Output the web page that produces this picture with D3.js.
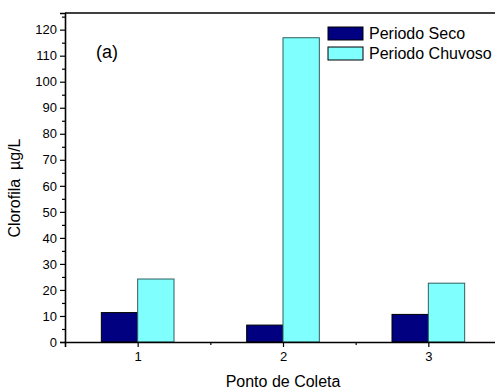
<!DOCTYPE html>
<html>
<head>
<meta charset="utf-8">
<script src="https://cdn.jsdelivr.net/npm/d3@7"></script>
<style>
  body { margin: 0; background: #fff; }
  svg { font-family: "Liberation Sans", Arial, sans-serif; }
</style>
</head>
<body>
<div id="chart"></div>
<script>
// chlorophyll per sampling point, dry vs rainy period
const pontos = [1, 2, 3]
const seco = [11.3, 6.5, 10.6]
const chuvoso = [24.2, 116.9, 22.6]
const series = ["Periodo Seco", "Periodo Chuvoso"]
const yTicks = [0, 10, 20, 30, 40, 50, 60, 70, 80, 90, 100, 110, 120]

const width = 495, height = 389
const margin = { top: 13, right: -6, bottom: 47, left: 65 }

const svg = d3.select("#chart").append("svg")
    .attr("width", width)
    .attr("height", height)

const x = d3.scaleLinear()
    .domain([0.5, 3.5])
    .range([margin.left, width - margin.right])

const y = d3.scaleLinear()
    .domain([0, 126.4])
    .range([height - margin.bottom, margin.top])

const colors = { fill: ["#000080", "#80ffff"], stroke: ["#000000", "#2f5f5f"] }
const barW = 0.25

// bars
const data = []
pontos.forEach(function (p, i) {
    data.push({ p: p, s: 0, v: seco[i] })
    data.push({ p: p, s: 1, v: chuvoso[i] })
})

svg.selectAll(".bar")
    .data(data)
    .enter()
    .append("rect")
    .attr("class", "bar")
    .attr("x", d => x(d.s === 0 ? d.p - barW : d.p))
    .attr("width", d => x(d.p + barW) - x(d.p))
    .attr("y", d => y(d.v))
    .attr("height", d => y(0) - y(d.v))
    .attr("fill", d => colors.fill[d.s])
    .attr("stroke", d => colors.stroke[d.s])
    .attr("stroke-width", 1)

// top frame line
svg.append("line")
    .attr("x1", x(0.5)).attr("x2", x(3.5))
    .attr("y1", y.range()[1]).attr("y2", y.range()[1])
    .attr("stroke", "#000").attr("stroke-width", 1.3)

// y axis
const yAxis = d3.axisLeft(y).tickValues(yTicks).tickSize(5).tickPadding(3)
const yMinor = d3.axisLeft(y).tickValues(d3.range(5, 126, 10)).tickSize(3).tickFormat("")
svg.append("g").attr("transform", `translate(${margin.left},0)`).call(yAxis)
svg.append("g").attr("transform", `translate(${margin.left},0)`).call(yMinor)
    .select(".domain").remove()

// x axis
const xAxis = d3.axisBottom(x).tickValues(pontos).tickSize(5).tickPadding(5).tickFormat(d3.format("d"))
const xMinor = d3.axisBottom(x).tickValues([1.5, 2.5]).tickSize(3).tickFormat("")
svg.append("g").attr("transform", `translate(0,${y(0)})`).call(xAxis)
svg.append("g").attr("transform", `translate(0,${y(0)})`).call(xMinor)
    .select(".domain").remove()

svg.selectAll(".domain").attr("stroke-width", 1.6).attr("stroke", "#000")
svg.selectAll(".tick line").attr("stroke", "#000").attr("stroke-width", 1.2)
svg.selectAll(".tick text").attr("font-size", 13).attr("fill", "#000")
    .attr("font-family", "Liberation Sans, Arial, sans-serif")

// axis titles
svg.append("text")
    .attr("x", 283).attr("y", 387)
    .attr("text-anchor", "middle")
    .attr("font-size", 16)
    .text("Ponto de Coleta")

svg.append("text")
    .attr("transform", "translate(20,188) rotate(-90)")
    .attr("text-anchor", "middle")
    .attr("font-size", 16)
    .style("white-space", "pre")
    .text("Clorofila  \u00b5g/L")

svg.append("text")
    .attr("x", 96).attr("y", 58)
    .attr("font-size", 18)
    .text("(a)")

// legend
const legend = svg.append("g").attr("transform", "translate(328,27)")
series.forEach(function (s, i) {
    legend.append("rect")
        .attr("x", 0).attr("y", i * 20)
        .attr("width", 35).attr("height", 13)
        .attr("fill", colors.fill[i])
        .attr("stroke", "#000").attr("stroke-width", 1)
    legend.append("text")
        .attr("x", 41).attr("y", i * 20 + 12)
        .attr("font-size", 16)
        .text(s)
})
</script>
</body>
</html>
